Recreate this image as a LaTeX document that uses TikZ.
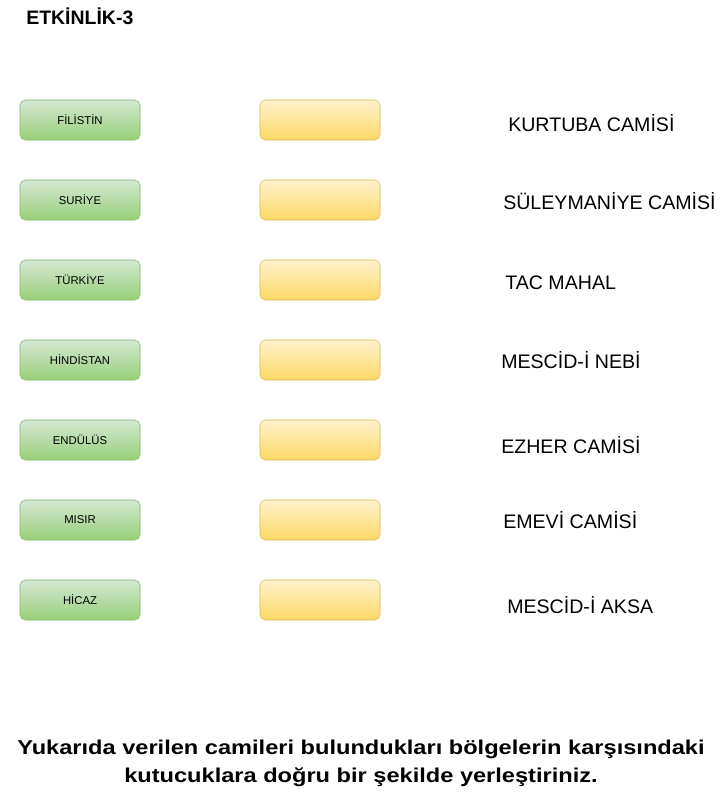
\documentclass[tikz,border=0pt]{standalone}
\usepackage{fontspec}
\setmainfont{Liberation Sans}
\newfontfamily\genisyazi[FakeStretch=1.18]{Liberation Sans}
\usetikzlibrary{positioning}

\definecolor{yesilust}{HTML}{D5E8D4}
\definecolor{yesilalt}{HTML}{97D077}
\definecolor{yesilcizgi}{HTML}{82B366}
\definecolor{sariust}{HTML}{FFF2CC}
\definecolor{sarialt}{HTML}{FFD966}
\definecolor{saricizgi}{HTML}{D6B656}

\tikzset{
  ulke/.style={draw=yesilcizgi, top color=yesilust, bottom color=yesilalt,
    rounded corners=4pt, minimum width=90pt, minimum height=30pt,
    inner sep=0pt, font=\fontsize{8.5}{10}\selectfont},
  kutu/.style={draw=saricizgi, top color=sariust, bottom color=sarialt,
    rounded corners=4pt, minimum width=90pt, minimum height=30pt, inner sep=0pt},
  cami/.style={anchor=west, inner sep=0pt, font=\fontsize{14.7}{16}\selectfont}
}

\begin{document}
\begin{tikzpicture}[x=0.75pt,y=-0.75pt]
            \useasboundingbox (0,0) rectangle (722,792);
            
            % Title
            \node[anchor=west, inner sep=0pt, font=\bfseries\fontsize{14.6}{16}\selectfont] (baslik) at (26,16) {ETKİNLİK-3};
            
            % Regions and empty boxes
            \foreach \ad [count=\i] in {FİLİSTİN, SURİYE, TÜRKİYE, HİNDİSTAN, ENDÜLÜS, MISIR, HİCAZ} {
                \node[ulke] (ulke\i) at (80,40+80*\i) {\ad};
                \node[kutu] (kutu\i) at (320,40+80*\i) {};
            }
            
            % Mosques
            \node[cami] (cami1) at (508,123) {KURTUBA CAMİSİ};
            \node[cami] (cami2) at (503,201) {SÜLEYMANİYE CAMİSİ};
            \node[cami] (cami3) at (505,283) {TAC MAHAL};
            \node[cami] (cami4) at (501,360) {MESCİD-İ NEBİ};
            \node[cami] (cami5) at (501,445) {EZHER CAMİSİ};
            \node[cami] (cami6) at (503,520) {EMEVİ CAMİSİ};
            \node[cami] (cami7) at (507,605) {MESCİD-İ AKSA};
            
            % Instruction
            \node[align=center, inner sep=0pt, font=\genisyazi\bfseries\fontsize{15}{21}\selectfont] (yonerge) at (361,763)
                {Yukarıda verilen camileri bulundukları bölgelerin karşısındaki\\kutucuklara doğru bir şekilde yerleştiriniz.};
            
\end{tikzpicture}
\end{document}
